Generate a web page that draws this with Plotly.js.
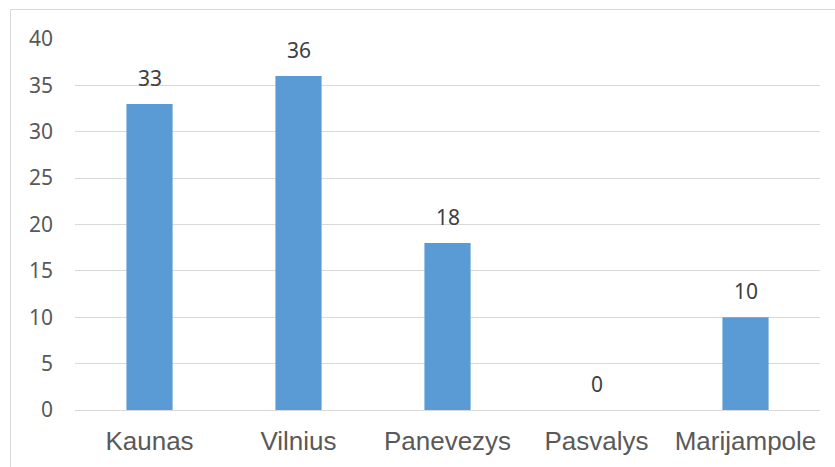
<!DOCTYPE html>
<html>
<head>
<meta charset="utf-8">
<script src="https://cdn.plot.ly/plotly-3.0.1.min.js"></script>
<style>
html,body{margin:0;padding:0;background:#fff;overflow:hidden;}
#wrap{position:relative;width:835px;height:467px;}
#chart{width:835px;height:467px;}
#frame{position:absolute;left:10px;top:9px;width:830px;height:470px;border:1px solid #d9d9d9;pointer-events:none;}
</style>
</head>
<body>
<div id="wrap"><div id="chart"></div><div id="frame"></div></div>
<script>
const categories = ["Kaunas", "Vilnius", "Panevezys", "Pasvalys", "Marijampole"];
const values = [33, 36, 18, 0, 10];
const yTicks = [0, 5, 10, 15, 20, 25, 30, 35, 40];

const trace = {
  type: 'bar',
  x: categories,
  y: values,
  marker: {color: '#5B9BD5'},
  hoverinfo: 'none'
};

const annotations = categories.map((c, i) => ({
  x: c, y: values[i], xref: 'x', yref: 'y',
  text: String(values[i]),
  showarrow: false,
  yanchor: 'middle',
  yshift: 26,
  font: {family: 'Noto Sans, Open Sans, sans-serif', size: 21, color: '#404040'}
}));

const layout = {
  width: 835, height: 467,
  margin: {l: 75, r: 15, t: 39, b: 57},
  paper_bgcolor: '#ffffff',
  plot_bgcolor: '#ffffff',
  bargap: 0.69,
  showlegend: false,
  xaxis: {
    type: 'category',
    showgrid: false,
    showline: false,
    ticks: '',
    tickfont: {family: 'Liberation Sans, Arial, sans-serif', size: 26, color: '#595959'},
    ticklabelstandoff: 13
  },
  yaxis: {
    range: [0, 40],
    tickvals: yTicks,
    ticktext: yTicks.map(String),
    showgrid: true,
    gridcolor: '#d9d9d9',
    gridwidth: 1,
    zeroline: true,
    zerolinecolor: '#d9d9d9',
    zerolinewidth: 1,
    showline: false,
    ticks: '',
    tickfont: {family: 'Noto Sans, Open Sans, sans-serif', size: 21, color: '#595959'},
    ticklabelstandoff: 21
  },
  annotations: annotations
};

Plotly.newPlot('chart', [trace], layout, {staticPlot: true, displayModeBar: false});
</script>
</body>
</html>
